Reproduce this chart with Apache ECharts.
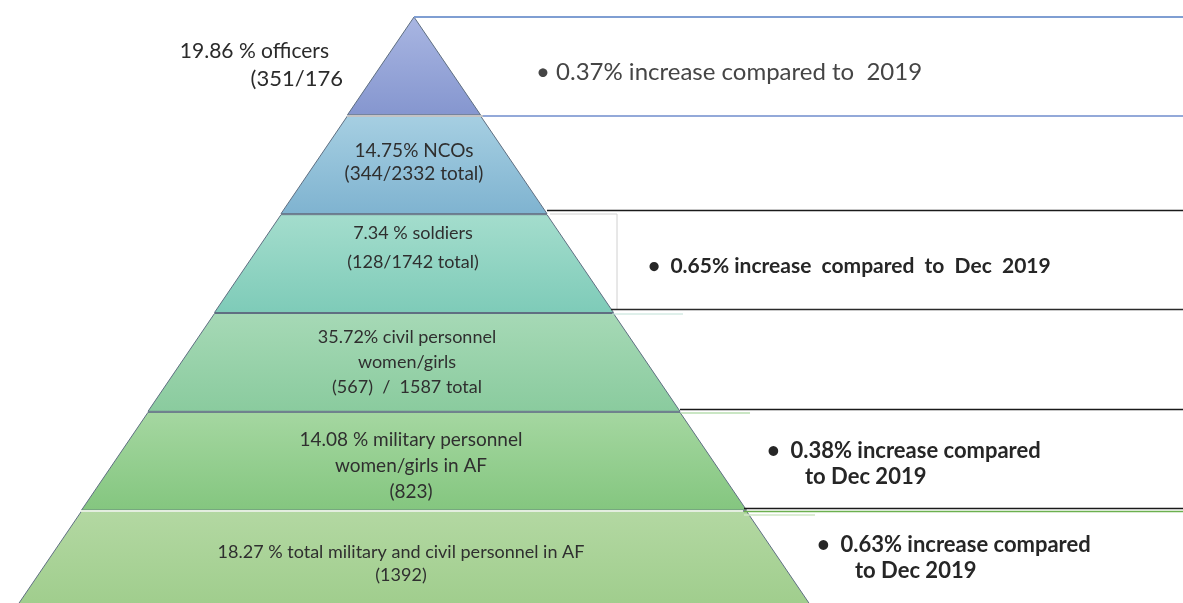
<!DOCTYPE html>
<html><head><meta charset="utf-8">
<script src="https://cdn.jsdelivr.net/npm/echarts@6/dist/echarts.min.js"></script>
<style>html,body{margin:0;padding:0;background:#fff}#c{width:1183px;height:603px}</style>
</head><body><div id="c"></div>
<script>
// Pyramid layers, top to bottom
const layerNames = ['officers', 'NCOs', 'soldiers', 'civil personnel', 'military personnel', 'total'];
const layerRank = [1, 2, 3, 4, 5, 6]; // structural width rank of each layer (pyramid shape)
const layerLabels = [
  ['19.86 % officers', '(351/176'],
  ['14.75% NCOs', '(344/2332 total)'],
  ['7.34 % soldiers', '(128/1742 total)'],
  ['35.72% civil personnel', 'women/girls', '(567)  /  1587 total'],
  ['14.08 % military personnel', 'women/girls in AF', '(823)'],
  ['18.27 % total military and civil personnel in AF', '(1392)']
];
const layerTopColors = ['#a9b6e2', '#a6cfe2', '#a4ddcd', '#a6d9b6', '#a5d7a1', '#b3d8a2'];
const layerBottomColors = ['#8596cf', '#7fb3d0', '#7ecbb8', '#8acb9e', '#84c67f', '#9fcd8c'];
// Right-hand annotations
const annotationLines = [
  ['• 0.37% increase compared to  2019'],
  ['•  0.65% increase  compared  to  Dec  2019'],
  ['•  0.38% increase compared', 'to Dec 2019'],
  ['•  0.63% increase compared', 'to Dec 2019']
];

// horizontal nudge via right padding; vertical nudge via spacer lines (before, after)
const labelPadRight = [0, 0, 2, 14, 6, 26];
const labelSpacers = [[0, 0], [0, 5], [0, 32], [0, 0], [10, 0], [8, 0]];
const labelLineHeights = [24, 23, 29, 25, 26, 23];
const labelSizes = [21, 19, 18, 18, 19, 18];

const chart = echarts.init(document.getElementById('c'), null, {renderer: 'canvas'});

const data = layerNames.map((n, i) => {
  let lines = layerLabels[i].map(s => '{t|' + s + '}');
  if (labelSpacers[i][0]) lines.unshift('{b| }');
  if (labelSpacers[i][1]) lines.push('{a| }');
  return {
    name: n,
    value: layerRank[i],
    itemStyle: {
      color: {type: 'linear', x: 0, y: 0, x2: 0, y2: 1, colorStops: [
        {offset: 0, color: layerTopColors[i]}, {offset: 1, color: layerBottomColors[i]}]}
    },
    label: {
      show: i > 0,
      formatter: lines.join('\n'),
      padding: [0, labelPadRight[i], 0, 0],
      rich: {
        t: {fontSize: labelSizes[i], lineHeight: labelLineHeights[i]},
        b: {fontSize: 1, lineHeight: labelSpacers[i][0]},
        a: {fontSize: 1, lineHeight: labelSpacers[i][1]}
      }
    }
  };
});

const font = 'Lato, "Open Sans", sans-serif';
const graphics = [];
function hline(x1, x2, y, stroke, w) {
  graphics.push({type: 'line', z: 10, shape: {x1: x1, y1: y, x2: x2, y2: y}, style: {stroke: stroke, lineWidth: w}});
}
function vline(x, y1, y2, stroke, w) {
  graphics.push({type: 'line', z: 10, shape: {x1: x, y1: y1, x2: x, y2: y2}, style: {stroke: stroke, lineWidth: w}});
}
// decorative box lines
hline(414, 1183, 17, '#7f9ed2', 2);
hline(483, 1183, 116, '#6f8ccc', 1.5);
hline(347, 483, 116, '#c4c4c4', 2);
hline(547, 1183, 210.5, '#1a1a1a', 1.5);
hline(550, 617, 214, '#d0d0d0', 1);
vline(617, 214, 309, '#d0d0d0', 1);
hline(611, 1183, 309.5, '#2a2a2a', 1.5);
hline(612, 683, 314, '#bfe0d6', 1);
hline(680, 1183, 409.5, '#1a1a1a', 1.5);
hline(681, 750, 413, '#b9deb0', 1.5);
hline(81, 743, 511, '#e4eee0', 2);
hline(744, 1183, 508.5, '#1a1a1a', 1.5);
hline(744, 1183, 511.5, '#6cb04f', 1.5);
hline(744, 815, 515, '#cfe6c4', 1.5);

// top-left label (outside of the apex layer)
graphics.push({type: 'text', z: 20, style: {text: layerLabels[0][0], x: 329, y: 51, align: 'right', verticalAlign: 'middle', font: labelSizes[0] + 'px ' + font, fill: '#2b2b2b'}});
graphics.push({type: 'text', z: 20, style: {text: layerLabels[0][1], x: 343, y: 79, align: 'right', verticalAlign: 'middle', font: (labelSizes[0] + 1) + 'px ' + font, fill: '#2b2b2b'}});

// annotations
const annPos = [[536, 72, 0, 0], [648, 266, 0, 0], [767, 451, 805, 477], [817, 545, 855, 571]];
const annSizes = [24, 21, 22, 22];
annotationLines.forEach((lines, i) => {
  const p = annPos[i];
  const bold = i > 0;
  const f = (bold ? 'bold ' : '') + annSizes[i] + 'px ' + font;
  graphics.push({type: 'text', z: 20, style: {text: lines[0], x: p[0], y: p[1], verticalAlign: 'middle', font: f, fill: bold ? '#262626' : '#454545'}});
  if (lines[1]) {
    graphics.push({type: 'text', z: 20, style: {text: lines[1], x: p[2], y: p[3], verticalAlign: 'middle', font: f, fill: '#262626'}});
  }
});

chart.setOption({
  animation: false,
  backgroundColor: '#ffffff',
  series: [{
    type: 'funnel',
    sort: 'ascending',
    left: 15, top: 17, width: 798, height: 592,
    min: 0, max: 6, minSize: '0%', maxSize: '100%',
    gap: 1,
    itemStyle: {borderColor: '#5f6f82', borderWidth: 1},
    label: {show: true, position: 'inside', color: '#2f2f2f', fontSize: 16, fontFamily: font},
    labelLine: {show: false},
    emphasis: {disabled: true},
    data: data
  }],
  graphic: graphics
});
</script>
</body></html>
